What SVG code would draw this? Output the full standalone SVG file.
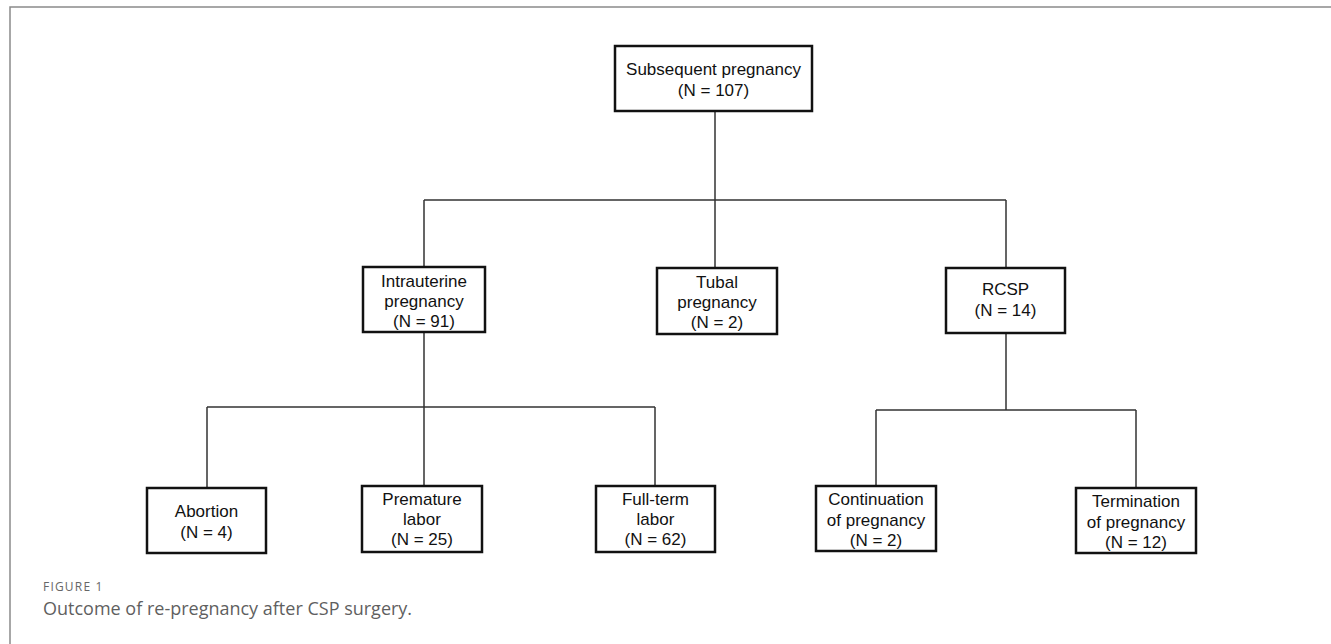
<svg xmlns="http://www.w3.org/2000/svg" width="1331" height="644" viewBox="0 0 1331 644">
<style>
.box{fill:#fff;stroke:#111;stroke-width:2.5}
.t{font-family:"Liberation Sans",Arial,sans-serif;font-size:17px;fill:#111;text-anchor:middle}
.c{fill:none;stroke:#333;stroke-width:1.5}
.frame{stroke:#8a8a8a;stroke-width:1.5;fill:none}
.fig{font-family:"Open Sans","Noto Sans",sans-serif;font-size:12px;fill:#666;letter-spacing:1.2px}
.cap{font-family:"Open Sans","Noto Sans",sans-serif;font-size:18px;fill:#5f5f5f}
</style>
<rect width="1331" height="644" fill="#fff"/>
<path class="frame" d="M10,644 V7 H1331"/>
<g id="connectors">
<path class="c" d="M715,111 V200 M424,200 H1006 M424,200 V267 M715,200 V268 M1006,200 V268"/>
<path class="c" d="M424,332 V407 M207,407 H655 M207,407 V488 M424,407 V486 M655,407 V486"/>
<path class="c" d="M1006,333 V410 M876,410 H1136 M876,410 V486 M1136,410 V488"/>
</g>
<g id="subsequent">
<rect class="box" x="615" y="46" width="197" height="65"/>
<text class="t" x="713.5" y="75">Subsequent pregnancy</text>
<text class="t" x="713.5" y="96">(N = 107)</text>
</g>
<g id="intrauterine">
<rect class="box" x="363" y="267" width="122" height="65"/>
<text class="t" x="424" y="287">Intrauterine</text>
<text class="t" x="424" y="307">pregnancy</text>
<text class="t" x="424" y="327">(N = 91)</text>
</g>
<g id="tubal">
<rect class="box" x="657" y="268" width="120" height="66"/>
<text class="t" x="717" y="288">Tubal</text>
<text class="t" x="717" y="308">pregnancy</text>
<text class="t" x="717" y="328">(N = 2)</text>
</g>
<g id="rcsp">
<rect class="box" x="946" y="268" width="119" height="65"/>
<text class="t" x="1005.5" y="295">RCSP</text>
<text class="t" x="1005.5" y="316">(N = 14)</text>
</g>
<g id="abortion">
<rect class="box" x="147" y="488" width="119" height="65"/>
<text class="t" x="206.5" y="517">Abortion</text>
<text class="t" x="206.5" y="538">(N = 4)</text>
</g>
<g id="premature">
<rect class="box" x="362" y="486" width="120" height="66"/>
<text class="t" x="422" y="505">Premature</text>
<text class="t" x="422" y="525">labor</text>
<text class="t" x="422" y="545">(N = 25)</text>
</g>
<g id="fullterm">
<rect class="box" x="596" y="486" width="119" height="66"/>
<text class="t" x="655.5" y="505">Full-term</text>
<text class="t" x="655.5" y="525">labor</text>
<text class="t" x="655.5" y="545">(N = 62)</text>
</g>
<g id="continuation">
<rect class="box" x="816" y="486" width="120" height="65"/>
<text class="t" x="876" y="505">Continuation</text>
<text class="t" x="876" y="526">of pregnancy</text>
<text class="t" x="876" y="546">(N = 2)</text>
</g>
<g id="termination">
<rect class="box" x="1076" y="488" width="120" height="65"/>
<text class="t" x="1136" y="507">Termination</text>
<text class="t" x="1136" y="528">of pregnancy</text>
<text class="t" x="1136" y="548">(N = 12)</text>
</g>
<text class="fig" x="43" y="591">FIGURE 1</text>
<text class="cap" x="43" y="615">Outcome of re-pregnancy after CSP surgery.</text>
</svg>
